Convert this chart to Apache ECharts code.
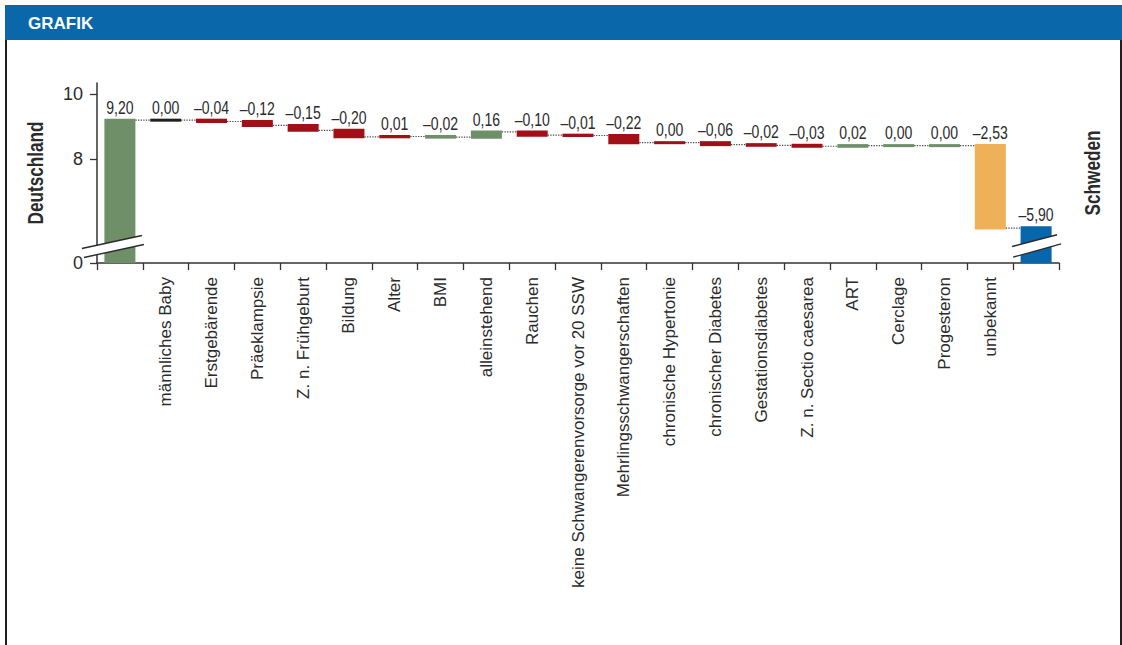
<!DOCTYPE html>
<html>
<head>
<meta charset="utf-8">
<script src="https://cdn.jsdelivr.net/npm/echarts@6/dist/echarts.min.js"></script>
<style>
  html, body { margin: 0; padding: 0; background: #ffffff; }
  #chart { width: 1122px; height: 645px; }
</style>
</head>
<body>
<div id="chart"></div>
<script>
// Categories along the x axis: the two country totals framing the factors
const categories = [
  'Deutschland', 'männliches Baby', 'Erstgebärende', 'Präeklampsie', 'Z. n. Frühgeburt',
  'Bildung', 'Alter', 'BMI', 'alleinstehend', 'Rauchen',
  'keine Schwangerenvorsorge vor 20 SSW', 'Mehrlingsschwangerschaften', 'chronische Hypertonie',
  'chronischer Diabetes', 'Gestationsdiabetes', 'Z. n. Sectio caesarea', 'ART', 'Cerclage',
  'Progesteron', 'unbekannt', 'Schweden'
];

// Starting total and closing total
const germanyTotal = 9.20;
const swedenTotal = 5.90;

// Contribution of each factor (männliches Baby … unbekannt)
const factorChanges = [
  0.00, -0.04, -0.12, -0.15, -0.20, 0.01, -0.02, 0.16, -0.10,
  -0.01, -0.22, 0.00, -0.06, -0.02, -0.03, 0.02, 0.00, 0.00, -2.53
];

// Value labels printed above each bar
const valueLabels = [
  '9,20', '0,00', '–0,04', '–0,12', '–0,15', '–0,20', '0,01', '–0,02', '0,16', '–0,10',
  '–0,01', '–0,22', '0,00', '–0,06', '–0,02', '–0,03', '0,02', '0,00', '0,00', '–2,53', '–5,90'
];

// Bar colour group for each category
const barGroups = [
  'total', 'neutral', 'neg', 'neg', 'neg', 'neg', 'neg', 'pos', 'pos', 'neg',
  'neg', 'neg', 'neg', 'neg', 'neg', 'neg', 'pos', 'pos', 'pos', 'unknown', 'end'
];

// y-axis tick values; the lowest tick sits at the axis break and reads "0"
const yAxisMin = 4.82;
const yAxisMax = 10.34;
const yTickValues = [yAxisMin, 8, 10];

const palette = {
  total: '#6e8f68',
  neutral: '#231f20',
  neg: '#a20f17',
  pos: '#6e8f68',
  unknown: '#eeb157',
  end: '#0866ad'
};

const SANS = '"Liberation Sans", Arial, sans-serif';
const TEXT = '#2b2b2b';

// Waterfall steps: [category index, start level, end level]
const steps = [];
let level = germanyTotal;
steps.push([0, 0, germanyTotal]);
factorChanges.forEach((d, k) => {
  const next = Math.round((level + d) * 100) / 100;
  steps.push([k + 1, level, next]);
  level = next;
});
steps.push([categories.length - 1, 0, swedenTotal]);

const BAR_W = 28;
const BAR_STROKE = 3;

function renderStep(params, api) {
  const idx = params.dataIndex;
  const i = api.value(0);
  const start = api.value(1);
  const end = api.value(2);
  const p0 = api.coord([i, start]);
  const p1 = api.coord([i, end]);
  const color = palette[barGroups[idx]];
  const top = Math.min(p0[1], p1[1]);
  const bottom = Math.max(p0[1], p1[1]);
  const children = [{
    type: 'rect',
    shape: { x: p0[0] - BAR_W / 2, y: top, width: BAR_W, height: Math.max(bottom - top, 0.01) },
    style: { fill: color, stroke: color, lineWidth: BAR_STROKE }
  }, {
    // condensed value label above the bar
    type: 'text',
    x: p0[0],
    y: top - BAR_STROKE / 2 - 2.5,
    scaleX: 0.78,
    style: {
      text: valueLabels[idx], align: 'center', verticalAlign: 'bottom',
      fill: TEXT, fontSize: 18, fontFamily: SANS
    }
  }];
  if (idx < steps.length - 1) {
    const nextX = api.coord([i + 1, end])[0];
    children.push({
      type: 'line',
      shape: {
        x1: p0[0] + BAR_W / 2 + BAR_STROKE / 2, y1: p1[1],
        x2: nextX - BAR_W / 2 - BAR_STROKE / 2, y2: p1[1]
      },
      style: { stroke: '#4a4a4a', lineWidth: 1.2, lineDash: [1.3, 1.3] }
    });
  }
  return { type: 'group', children };
}

const chart = echarts.init(document.getElementById('chart'), null, { renderer: 'svg' });

chart.setOption({
  animation: false,
  backgroundColor: '#ffffff',
  grid: { left: 97, right: 63, top: 83, bottom: 382, containLabel: false },
  xAxis: {
    type: 'category',
    data: categories,
    boundaryGap: true,
    axisLine: { lineStyle: { color: '#333333', width: 1.5 } },
    axisTick: { show: true, length: 7, alignWithLabel: false, lineStyle: { color: '#333333', width: 1.3 } },
    axisLabel: {
      interval: 0,
      rotate: 90,
      margin: 14,
      color: TEXT,
      fontSize: 17,
      fontFamily: SANS,
      formatter: (v, i) => (i === 0 || i === categories.length - 1) ? '' : v
    },
    splitLine: { show: false }
  },
  yAxis: [{
    type: 'value',
    min: yAxisMin,
    max: yAxisMax,
    axisLine: { show: true, onZero: false, lineStyle: { color: '#333333', width: 1.5 } },
    axisTick: { show: true, length: 7, customValues: yTickValues, lineStyle: { color: '#333333', width: 1.3 } },
    axisLabel: {
      margin: 14,
      color: TEXT,
      fontSize: 18,
      fontFamily: SANS,
      customValues: yTickValues,
      formatter: v => (v < 5 ? '0' : String(v))
    },
    splitLine: { show: false }
  }],
  series: [{
    type: 'custom',
    clip: true,
    renderItem: renderStep,
    encode: { x: 0, y: [1, 2] },
    data: steps,
    z: 5
  }]
});

// Axis-break marks over the first and last bars, placed via the axis scales
function breakMark(cx, yb, upper, lower) {
  const u1 = [cx + upper[0][0], yb + upper[0][1]];
  const u2 = [cx + upper[1][0], yb + upper[1][1]];
  const l1 = [cx + lower[0][0], yb + lower[0][1]];
  const l2 = [cx + lower[1][0], yb + lower[1][1]];
  return [{
    type: 'polygon', z: 100,
    shape: { points: [u1, u2, l2, l1] },
    style: { fill: '#ffffff' }
  }, {
    type: 'line', z: 101,
    shape: { x1: u1[0], y1: u1[1], x2: u2[0], y2: u2[1] },
    style: { stroke: '#2b2b2b', lineWidth: 1.4 }
  }, {
    type: 'line', z: 101,
    shape: { x1: l1[0], y1: l1[1], x2: l2[0], y2: l2[1] },
    style: { stroke: '#2b2b2b', lineWidth: 1.4 }
  }];
}

// Rotated, condensed country titles beside the plot, centred on the axis span
function sideTitle(text, x, y) {
  return {
    type: 'text', z: 10, x, y, rotation: Math.PI / 2, scaleX: 0.78,
    style: {
      text, fill: TEXT, fontSize: 22, fontWeight: 'bold', fontFamily: SANS,
      align: 'center', verticalAlign: 'middle'
    }
  };
}

const first = chart.convertToPixel({ gridIndex: 0 }, [0, yAxisMin]);
const last = chart.convertToPixel({ gridIndex: 0 }, [categories.length - 1, yAxisMin]);
const topPx = chart.convertToPixel({ gridIndex: 0 }, [0, yAxisMax])[1];
const midY = (first[1] + topPx) / 2;

chart.setOption({
  graphic: [
    // page frame and heading band
    { type: 'rect', z: 0, shape: { x: 5, y: 5, width: 1117, height: 35 }, style: { fill: '#0a67a9' } },
    { type: 'text', z: 1, x: 28, y: 23, style: {
        text: 'GRAFIK', fill: '#ffffff', fontSize: 17, fontWeight: 'bold',
        fontFamily: SANS, verticalAlign: 'middle' } },
    { type: 'line', z: 0, shape: { x1: 6, y1: 40, x2: 6, y2: 645 }, style: { stroke: '#231f20', lineWidth: 2 } },
    { type: 'line', z: 0, shape: { x1: 1121, y1: 40, x2: 1121, y2: 645 }, style: { stroke: '#231f20', lineWidth: 2 } },
    sideTitle('Deutschland', first[0] - 85, midY),
    sideTitle('Schweden', last[0] + 56, midY),
    ...breakMark(first[0], first[1], [[-38, -14.5], [22, -27.5]], [[-36, -5.5], [24, -18.5]]),
    ...breakMark(last[0], last[1], [[-24, -16.5], [21, -28.2]], [[-23, -5.8], [25, -19.2]])
  ]
});
</script>
</body>
</html>
